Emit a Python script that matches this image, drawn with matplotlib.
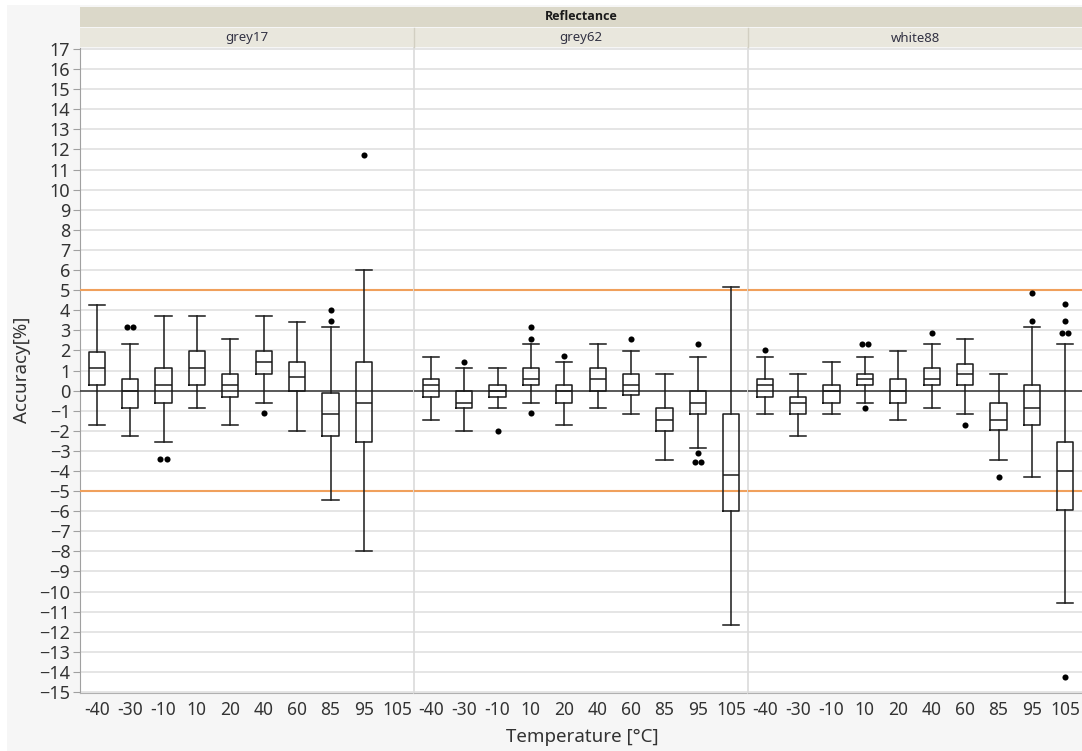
import numpy as np
import matplotlib.pyplot as plt
from matplotlib.patches import Rectangle
from collections import Counter

plt.rcParams['font.family'] = ['Noto Sans', 'DejaVu Sans']

temps = ['-40', '-30', '-10', '10', '20', '40', '60', '85', '95', '105']
panels = ['grey17', 'grey62', 'white88']
nan = np.nan

# grey17 (no measurement at 105)
g17_whislo = [-1.71, -2.27, -2.54, -0.88, -1.71, -0.60, -1.99, -5.46, -7.96, nan]
g17_q1 = [0.30, -0.88, -0.60, 0.30, -0.32, 0.85, 0.00, -2.27, -2.54, nan]
g17_med = [1.14, 0.00, 0.30, 1.14, 0.30, 1.41, 0.70, -1.14, -0.60, nan]
g17_q3 = [1.90, 0.58, 1.13, 1.97, 0.85, 1.97, 1.41, -0.12, 1.41, nan]
g17_whishi = [4.25, 2.30, 3.70, 3.70, 2.59, 3.70, 3.42, 3.15, 5.99, nan]
g17_fliers = [[], [3.15, 3.15], [-3.42, -3.42], [], [], [-1.13], [], [4.01, 3.45], [11.72], []]

# grey62
g62_whislo = [-1.44, -1.99, -0.88, -0.60, -1.71, -0.88, -1.14, -3.43, -2.87, -11.69]
g62_q1 = [-0.32, -0.88, -0.32, 0.30, -0.60, 0.00, -0.22, -1.99, -1.14, -6.00]
g62_med = [0.30, -0.60, 0.00, 0.58, 0.00, 0.58, 0.30, -1.44, -0.60, -4.18]
g62_q3 = [0.58, 0.00, 0.30, 1.13, 0.30, 1.13, 0.85, -0.88, 0.00, -1.14]
g62_whishi = [1.69, 1.13, 1.13, 2.30, 1.41, 2.30, 1.97, 0.85, 1.69, 5.14]
g62_fliers = [[], [1.44], [-1.99], [3.15, 2.59, -1.13], [1.72], [], [2.59], [],
              [2.30, -3.12, -3.55, -3.55], []]

# white88
w88_whislo = [-1.14, -2.27, -1.14, -0.60, -1.44, -0.88, -1.14, -3.43, -4.28, -10.55]
w88_q1 = [-0.32, -1.14, -0.60, 0.30, -0.60, 0.30, 0.30, -1.96, -1.71, -5.95]
w88_med = [0.30, -0.60, 0.00, 0.58, 0.00, 0.58, 0.85, -1.44, -0.88, -3.98]
w88_q3 = [0.58, -0.32, 0.30, 0.85, 0.58, 1.13, 1.34, -0.60, 0.30, -2.54]
w88_whishi = [1.69, 0.85, 1.41, 1.69, 1.97, 2.30, 2.59, 0.85, 3.15, 2.30]
w88_fliers = [[2.00], [], [], [2.30, 2.30, -0.85], [], [2.87], [-1.71], [-4.28],
              [4.88, 3.45], [4.31, 3.45, 2.87, 2.87, -14.25]]

spec_lo, spec_hi = -5, 5

data = [
    (g17_whislo, g17_q1, g17_med, g17_q3, g17_whishi, g17_fliers),
    (g62_whislo, g62_q1, g62_med, g62_q3, g62_whishi, g62_fliers),
    (w88_whislo, w88_q1, w88_med, w88_q3, w88_whishi, w88_fliers),
]

W, H = 1082, 751
fig = plt.figure(figsize=(W / 100, H / 100), dpi=100, facecolor='white')


def px_rect(x0, y0, x1, y1):
    # pixel box (top-left origin) -> figure fraction rect
    return [x0 / W, 1 - y1 / H, (x1 - x0) / W, (y1 - y0) / H]


# grey window background
bg = px_rect(7, 5, W, H)
fig.patches.append(Rectangle((bg[0], bg[1]), bg[2], bg[3], transform=fig.transFigure,
                             facecolor='#f6f6f6', edgecolor='none', zorder=-10))

# header strips
r = px_rect(80, 7, W, 27)
fig.patches.append(Rectangle((r[0], r[1]), r[2], r[3], transform=fig.transFigure,
                             facecolor='#dbd8c9', edgecolor='none', zorder=-5))
fig.text((80 + W) / 2 / W, 1 - 17 / H, 'Reflectance', ha='center', va='center',
         fontsize=9, fontweight='bold', color='#1a1a1a',
         family=['Open Sans', 'DejaVu Sans'])

edges = [80, 414, 748, W]
text_col = '#333333'
axes = []
for i, name in enumerate(panels):
    x0, x1 = edges[i], edges[i + 1]
    r = px_rect(x0, 28, x1, 47)
    fig.patches.append(Rectangle((r[0], r[1]), r[2], r[3], transform=fig.transFigure,
                                 facecolor='#e9e7dd', edgecolor='none', zorder=-5))
    fig.text((x0 + x1) / 2 / W, 1 - 38 / H, name, ha='center', va='center',
             fontsize=9.5, color='#333344')
    if i > 0:
        fig.add_artist(plt.Line2D([x0 / W, x0 / W], [1 - 28 / H, 1 - 47 / H],
                                  transform=fig.transFigure, color='#d2cfc2', lw=1))

    ax = fig.add_axes(px_rect(x0, 48, x1, 693))
    ax.set_facecolor('white')
    axes.append(ax)

    whislo, q1, med, q3, whishi, fliers = data[i]
    stats, pos = [], []
    for k in range(len(temps)):
        if np.isnan(med[k]):
            continue
        stats.append(dict(whislo=whislo[k], q1=q1[k], med=med[k], q3=q3[k],
                          whishi=whishi[k], fliers=[]))
        pos.append(k)

    lp = dict(color='#1a1a1a', linewidth=1.1)
    ax.bxp(stats, positions=pos, widths=0.48, capwidths=0.48, showfliers=False,
           boxprops=lp, whiskerprops=lp, capprops=lp, medianprops=lp,
           manage_ticks=False, zorder=4)

    # outlier points, repeated values drawn side by side
    for k, fl in enumerate(fliers):
        cnt = Counter(fl)
        for v, n in cnt.items():
            offs = (np.arange(n) - (n - 1) / 2) * 0.18
            ax.plot(k + offs, [v] * n, 'o', color='black', markersize=4.4,
                    markeredgewidth=0, zorder=5)

    ax.axhline(0, color='#333333', lw=1.1, zorder=3)
    ax.axhline(spec_hi, color='#f0a05c', lw=1.5, zorder=3)
    ax.axhline(spec_lo, color='#f0a05c', lw=1.5, zorder=3)

    ax.set_xlim(-0.5, len(temps) - 0.5)
    ax.set_ylim(-15.05, 17.05)
    ax.set_yticks(np.arange(-15, 18, 1))
    ax.grid(axis='y', color='#e3e3e3', lw=1.3, zorder=0)
    ax.set_axisbelow(True)
    ax.set_xticks(range(len(temps)))
    ax.set_xticklabels(temps)
    ax.tick_params(axis='x', length=0, pad=6, labelsize=12.5, labelcolor=text_col)
    for s in ['top', 'right']:
        ax.spines[s].set_visible(False)
    ax.spines['bottom'].set_color('#b0b0b0')
    if i == 0:
        ax.spines['left'].set_color('#a0a0a0')
        ax.tick_params(axis='y', length=5, color='#a0a0a0', labelsize=13,
                       labelcolor=text_col, pad=2)
    else:
        ax.spines['left'].set_color('#dddddd')
        ax.spines['left'].set_linewidth(1.3)
        ax.tick_params(axis='y', length=0, labelleft=False)

fig.text(22 / W, 1 - 370 / H, 'Accuracy[%]', rotation=90, ha='center', va='center',
         fontsize=13.5, color=text_col)
fig.text(582 / W, 1 - 737 / H, 'Temperature [°C]', ha='center', va='center',
         fontsize=13.5, color=text_col)

fig.savefig('out.png', dpi=100, facecolor=fig.get_facecolor())
